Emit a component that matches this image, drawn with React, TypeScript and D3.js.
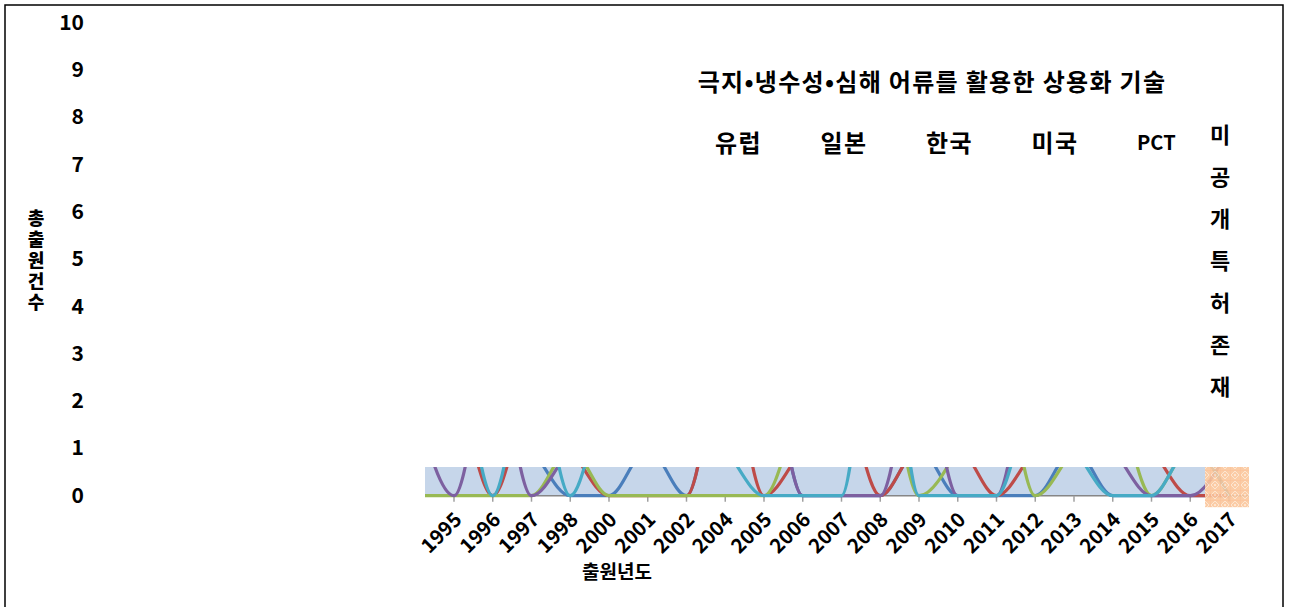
import React from 'react';
import * as d3 from 'd3';

// Filing years on the category axis (the first, unlabeled slot is the point just left of the plot edge)
const categories = ['', '1995', '1996', '1997', '1998', '2000', '2001', '2002', '2004', '2005', '2006', '2007', '2008', '2009', '2010', '2011', '2012', '2013', '2014', '2015', '2016', '2017'];

// Application counts per office
const europe = [2, 2, 2, 1, 0, 0, 1, 0, 3, 3, 0, 0, 0, 1, 0, 0, 0, 1, 0, 0, 0, 0];
const japan = [0, 2, 0, 2, 1, 0, 0, 0, 3, 0, 1, 2, 0, 1, 1, 0, 1, 2, 2, 1, 0, 0];
const korea = [0, 0, 0, 0, 1, 0, 0, 0, 0, 0, 2, 3, 3, 0, 1, 3, 0, 1, 2, 0, 1, 0];
const usa = [2, 0, 3, 0, 1, 2, 2, 2, 2, 3, 0, 0, 0, 3, 0, 0, 3, 2, 1, 0, 0, 1];
const pct = [2, 3, 0, 3, 0, 2, 2, 2, 1, 0, 0, 0, 5, 0, 0, 0, 2, 1, 0, 0, 1, 0];

// Years still covered by unpublished applications
const unpublishedYears = ['2017'];

const yTicks = [0, 1, 2, 3, 4, 5, 6, 7, 8, 9, 10];

const seriesNames = ['유럽', '일본', '한국', '미국', 'PCT'];
const seriesColors = ['#4A7EBB', '#BE4B48', '#98B954', '#7D60A0', '#46AAC5'];
const seriesValues = [europe, japan, korea, usa, pct];

const unpublishedName = '미공개특허존재';
const title = '극지•냉수성•심해 어류를 활용한 상용화 기술';
const yTitle = '총출원건수';
const xTitle = '출원년도';

const W = 1289;
const H = 607;
const FONT = "'Noto Sans CJK KR', 'Noto Sans', sans-serif";

// plot geometry
const plotLeft = 425;
const plotRight = 1249;
const plotTop = 467;
const axisY = 495.7;
const step = 38.75;
const firstYearX = 454;

export default function App() {
  const x = d3
    .scalePoint<string>()
    .domain(categories)
    .range([firstYearX - step, firstYearX + step * (categories.length - 2)]);
  const y = d3.scaleLinear().domain([0, 10]).range([axisY, axisY - 473]);

  const line = d3
    .line<number>()
    .x((_, i) => x(categories[i]) as number)
    .y((d) => y(d))
    .curve(d3.curveMonotoneX);

  const bandRight = (x(unpublishedYears[0]) as number) - 24;

  return (
    <svg
      width={W}
      height={H}
      viewBox={`0 0 ${W} ${H}`}
      style={{ position: 'absolute', left: 0, top: 0, background: '#fff' }}
    >
      <defs>
        <clipPath id="plotClip">
          <rect x={plotLeft} y={plotTop} width={plotRight - plotLeft} height={60} />
        </clipPath>
        <pattern id="unpubPattern" width="10" height="10" patternUnits="userSpaceOnUse">
          <rect width="10" height="10" fill="#FBC69C" />
          <path d="M5 1 L9 5 L5 9 L1 5 Z" fill="none" stroke="#FDE3CC" strokeWidth="1" />
          <path d="M0 0 H10 M0 0 V10" stroke="#F9B886" strokeWidth="0.8" />
          <circle cx="5" cy="5" r="1" fill="#FEEBDB" />
        </pattern>
      </defs>

      {/* chart frame */}
      <rect x={5} y={5} width={1278} height={640} fill="none" stroke="#000" strokeWidth={1.5} />

      {/* plot background */}
      <rect x={plotLeft} y={plotTop} width={bandRight - plotLeft} height={axisY - plotTop} fill="#C6D6EA" />

      {/* y tick labels */}
      {yTicks.map((t) => (
        <text
          key={t}
          x={84}
          y={y(t) - 2}
          textAnchor="end"
          dominantBaseline="central"
          fontFamily={FONT}
          fontWeight="bold"
          fontSize={21}
          fill="#000"
        >
          {t}
        </text>
      ))}

      {/* y title, stacked vertically */}
      <text
        x={36}
        y={209}
        style={{ writingMode: 'vertical-rl', textOrientation: 'upright' }}
        fontFamily={FONT}
        fontWeight="900"
        fontSize={18}
        letterSpacing={3}
        fill="#000"
      >
        {yTitle}
      </text>

      {/* axis line and ticks */}
      <line x1={plotLeft} x2={plotRight} y1={axisY} y2={axisY} stroke="#868686" strokeWidth={1.5} />
      {categories.slice(1).map((c) => (
        <line
          key={c}
          x1={x(c)}
          x2={x(c)}
          y1={axisY}
          y2={axisY + 6}
          stroke="#A0A0A0"
          strokeWidth={1.5}
        />
      ))}

      {/* series lines */}
      <g clipPath="url(#plotClip)">
        {seriesValues.map((vals, si) => (
          <path
            key={si}
            d={line(vals) || ''}
            fill="none"
            stroke={seriesColors[si]}
            strokeWidth={3.2}
            strokeLinejoin="round"
          />
        ))}
      </g>

      {/* unpublished-application block */}
      {unpublishedYears.map((yr) => (
        <rect
          key={yr}
          x={(x(yr) as number) - 24}
          y={plotTop}
          width={44}
          height={axisY + 11.5 - plotTop}
          fill="url(#unpubPattern)"
          opacity={0.9}
        />
      ))}

      {/* x tick labels */}
      {categories.slice(1).map((c) => (
        <text
          key={c}
          transform={`translate(${(x(c) as number) + 9},${521}) rotate(-45)`}
          textAnchor="end"
          fontFamily={FONT}
          fontWeight="bold"
          fontSize={20}
          fill="#000"
        >
          {c}
        </text>
      ))}

      {/* x title */}
      <text
        x={617}
        y={570}
        textAnchor="middle"
        dominantBaseline="central"
        fontFamily={FONT}
        fontWeight="bold"
        fontSize={19}
        fill="#000"
      >
        {xTitle}
      </text>

      {/* chart title */}
      <text
        x={932}
        y={80}
        textAnchor="middle"
        dominantBaseline="central"
        fontFamily={FONT}
        fontWeight="bold"
        fontSize={24}
        letterSpacing={1.3}
        fill="#000"
      >
        {title}
      </text>

      {/* legend */}
      {seriesNames.map((n, i) => (
        <text
          key={n}
          x={715 + i * 105.5}
          y={141}
          dominantBaseline="central"
          fontFamily={FONT}
          fontWeight="bold"
          fontSize={n === 'PCT' ? 20 : 24}
          letterSpacing={n === 'PCT' ? 0 : 1.5}
          fill="#000"
        >
          {n}
        </text>
      ))}
      {Array.from(unpublishedName).map((ch, i) => (
        <text
          key={i}
          x={1220}
          y={133 + i * 42}
          textAnchor="middle"
          dominantBaseline="central"
          fontFamily={FONT}
          fontWeight="bold"
          fontSize={22}
          fill="#000"
        >
          {ch}
        </text>
      ))}
    </svg>
  );
}
